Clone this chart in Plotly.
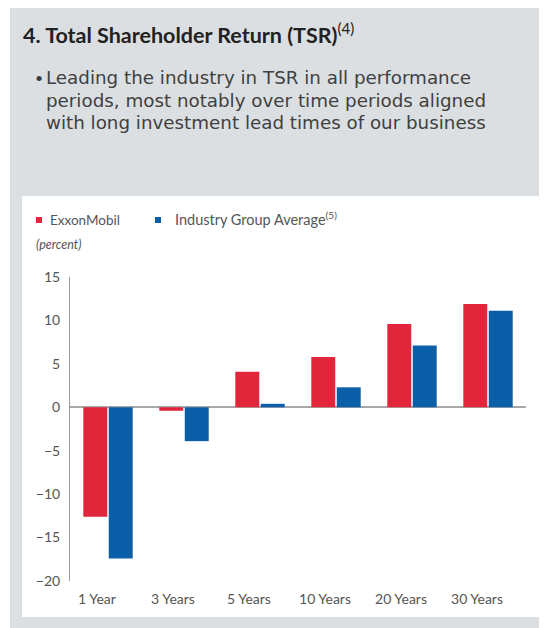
import plotly.graph_objects as go

categories = ["1 Year", "3 Years", "5 Years", "10 Years", "20 Years", "30 Years"]
exxon = [-12.6, -0.4, 4.1, 5.8, 9.6, 11.9]
industry = [-17.4, -3.9, 0.4, 2.3, 7.1, 11.1]
y_ticks = [-20, -15, -10, -5, 0, 5, 10, 15]
series_names = ["ExxonMobil", "Industry Group Average"]

W, H = 547, 628
OFF = 8  # page body margin
L, R, T, B = 62, 29, 269, 55
PW = W - L - R
PH = H - T - B


def px(x):
    return (x - OFF - L) / PW


def py(y):
    return (H - B - (y - OFF)) / PH


RED = "#e1253b"
BLUE = "#0b5fa8"
FONT = "Lato, 'Open Sans', sans-serif"
BODY_FONT = "'DejaVu Sans', Lato, sans-serif"

fig = go.Figure()
fig.add_bar(x=categories, y=exxon, name=series_names[0], marker=dict(color=RED, line=dict(width=0)))
fig.add_bar(x=categories, y=industry, name=series_names[1], marker=dict(color=BLUE, line=dict(width=0)))

shapes = [
    dict(type="rect", xref="paper", yref="paper", x0=px(10), x1=px(543), y0=py(640), y1=py(6),
         fillcolor="#dcdfe2", line=dict(width=0), layer="below"),
    dict(type="rect", xref="paper", yref="paper", x0=px(22), x1=px(540), y0=py(617), y1=py(196),
         fillcolor="#ffffff", line=dict(width=0), layer="below"),
    # legend swatches
    dict(type="rect", xref="paper", yref="paper", x0=px(36), x1=px(42), y0=py(223), y1=py(217),
         fillcolor=RED, line=dict(width=0)),
    dict(type="rect", xref="paper", yref="paper", x0=px(155), x1=px(161), y0=py(223), y1=py(217),
         fillcolor=BLUE, line=dict(width=0)),
]

body_lines = [
    "Leading the industry in TSR in all performance",
    "periods, most notably over time periods aligned",
    "with long investment lead times of our business",
]
line_y = [77, 99.5, 122]

annotations = [
    dict(text="<b>4. Total Shareholder Return (TSR)</b><sup>(4)</sup>", xref="paper", yref="paper",
         x=px(21), y=py(33), xanchor="left", yanchor="middle", showarrow=False,
         font=dict(family=FONT, size=21.5, color="#222222")),
    dict(text="•", xref="paper", yref="paper", x=px(33), y=py(77), xanchor="left", yanchor="middle",
         showarrow=False, font=dict(family=FONT, size=14, color="#3c3c3c")),
    dict(text="<i>(percent)</i>", xref="paper", yref="paper", x=px(34), y=py(245),
         xanchor="left", yanchor="middle", showarrow=False,
         font=dict(family=FONT, size=12.5, color="#555555")),
    dict(text=series_names[0], xref="paper", yref="paper", x=px(48), y=py(220),
         xanchor="left", yanchor="middle", showarrow=False,
         font=dict(family=FONT, size=13.5, color="#555555")),
    dict(text=series_names[1] + "<sup>(5)</sup>", xref="paper", yref="paper", x=px(173), y=py(219),
         xanchor="left", yanchor="middle", showarrow=False,
         font=dict(family=FONT, size=14.5, color="#555555")),
]
for t, yy in zip(body_lines, line_y):
    annotations.append(dict(text=t, xref="paper", yref="paper", x=px(45), y=py(yy),
                            xanchor="left", yanchor="middle", showarrow=False,
                            height=22, borderpad=0, valign="middle",
                            font=dict(family=BODY_FONT, size=18.3, color="#404040")))

fig.update_layout(
    width=W, height=H,
    margin=dict(l=L, r=R, t=T, b=B),
    paper_bgcolor="#ffffff",
    plot_bgcolor="rgba(0,0,0,0)",
    barmode="group",
    bargap=0.33,
    bargroupgap=0.06,
    shapes=shapes,
    annotations=annotations,
    showlegend=False,
    font=dict(family=FONT, color="#555555"),
)
fig.update_yaxes(range=[-20, 15], tickvals=y_ticks, showgrid=False, showline=True,
                 linecolor="#9a9a9a", linewidth=1, zeroline=True, zerolinecolor="#a8a8a8",
                 zerolinewidth=1.5, ticks="", ticklabelstandoff=6,
                 tickfont=dict(family=FONT, size=14, color="#555555"))
fig.update_xaxes(type="category", showgrid=False, showline=False, zeroline=False, ticks="",
                 ticklabelstandoff=8, ticklabelshift=-11,
                 tickfont=dict(family=FONT, size=14, color="#555555"))

fig.write_html("out.html")
